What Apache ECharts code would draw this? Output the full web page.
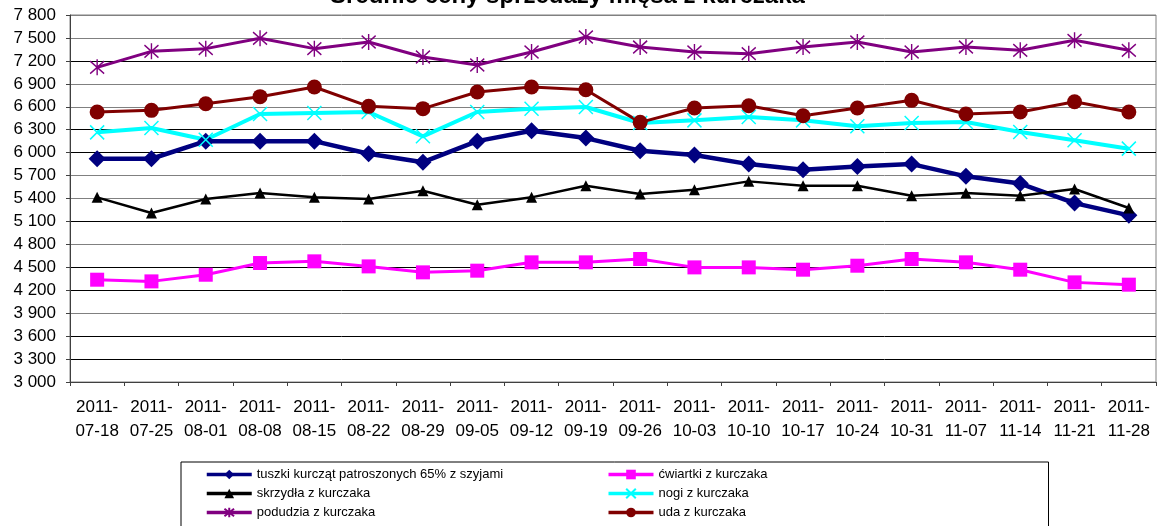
<!DOCTYPE html>
<html>
<head>
<meta charset="utf-8">
<script src="https://cdn.jsdelivr.net/npm/echarts@6/dist/echarts.min.js"></script>
<style>
html,body{margin:0;padding:0;background:#fff;}
#chart{width:1157px;height:526px;}
</style>
</head>
<body>
<div id="chart"></div>
<script>
const categories = ['2011-07-18','2011-07-25','2011-08-01','2011-08-08','2011-08-15','2011-08-22','2011-08-29','2011-09-05','2011-09-12','2011-09-19','2011-09-26','2011-10-03','2011-10-10','2011-10-17','2011-10-24','2011-10-31','2011-11-07','2011-11-14','2011-11-21','2011-11-28'];
const tuszki = [5920,5920,6150,6150,6150,5985,5875,6150,6285,6190,6025,5970,5850,5775,5820,5850,5690,5595,5340,5180];
const cwiartki = [4338,4316,4403,4556,4578,4512,4434,4456,4565,4565,4609,4499,4499,4469,4521,4609,4565,4469,4303,4273];
const skrzydla = [5415,5210,5393,5472,5415,5393,5502,5319,5415,5568,5459,5515,5624,5568,5568,5437,5472,5437,5524,5276];
const nogi = [6265,6322,6169,6505,6518,6531,6213,6531,6575,6597,6388,6422,6466,6422,6344,6388,6401,6270,6161,6052];
const podudzia = [7115,7325,7360,7495,7360,7447,7251,7146,7316,7512,7381,7316,7294,7381,7447,7316,7381,7338,7469,7338];
const uda = [6531,6553,6640,6732,6858,6605,6575,6793,6858,6823,6396,6583,6614,6483,6583,6684,6505,6531,6666,6531];
const seriesNames = ['tuszki kurcząt patroszonych 65% z szyjami','ćwiartki z kurczaka','skrzydła z kurczaka','nogi z kurczaka','podudzia z kurczaka','uda z kurczaka'];
const titleText = 'Średnie ceny sprzedaży mięsa z kurczaka';

const FONT = "'Liberation Sans', Arial, sans-serif";
const G = '#808080', B = '#000000';
const gridColors = [B,B,B,G,B,B,G,B,G,G,B,B,G,G,B,G,G];

const chart = echarts.init(document.getElementById('chart'), null, {renderer:'canvas'});
function mk(name, data, color, symbol, size, width, extra) {
  return Object.assign({
    name: name, type: 'line', data: data, symbol: symbol, symbolSize: size,
    lineStyle: {color: color, width: width},
    itemStyle: {color: color},
    emphasis: {disabled: true},
    animation: false
  }, extra || {});
}
chart.setOption({
  backgroundColor: '#fff',
  animation: false,
  title: {
    text: titleText, left: 325, top: -21,
    textStyle: {fontFamily: FONT, fontSize: 24, fontWeight: 'bold', color: '#000'}
  },
  grid: {left: 70, right: 1, top: 15, bottom: 144, show: true, borderColor: G, borderWidth: 1},
  legend: {
    left: 181, top: 462, width: 830,
    padding: [3, 40, 8, 24],
    borderColor: '#000', borderWidth: 1,
    itemWidth: 45, itemHeight: 12, itemGap: 0,
    lineStyle: {width: 3.5},
    textStyle: {fontFamily: FONT, fontSize: 13, color: '#000', width: 350, lineHeight: 19},
    data: seriesNames
  },
  xAxis: {
    type: 'category', data: categories, boundaryGap: true,
    axisLine: {lineStyle: {color: '#404040', width: 1}},
    axisTick: {show: true, length: 4, lineStyle: {color: '#404040'}},
    axisLabel: {
      interval: 0, margin: 13, fontFamily: FONT, fontSize: 17, color: '#000', lineHeight: 24,
      formatter: v => v.slice(0,5) + '\n' + v.slice(5)
    }
  },
  yAxis: {
    type: 'value', min: 3000, max: 7800, interval: 300,
    axisLine: {show: true, lineStyle: {color: '#404040', width: 1}},
    axisTick: {show: true, length: 4, lineStyle: {color: '#404040'}},
    axisLabel: {
      margin: 14, fontFamily: FONT, fontSize: 17, color: '#000',
      formatter: v => String(v).replace(/\B(?=(\d{3})+(?!\d))/g, ' ')
    },
    splitLine: {show: true, lineStyle: {color: gridColors, width: 1}}
  },
  series: [
    mk(seriesNames[0], tuszki, '#000080', 'diamond', 17, 4.5),
    mk(seriesNames[1], cwiartki, '#FF00FF', 'rect', 14, 3),
    mk(seriesNames[2], skrzydla, '#000000', 'triangle', 11, 2.5),
    mk(seriesNames[3], nogi, '#00FFFF', 'path://M0,0L10,10M0,10L10,0', 14, 4,
       {itemStyle: {color: '#00FFFF', borderColor: '#00FFFF', borderWidth: 1.5}}),
    mk(seriesNames[4], podudzia, '#800080', 'path://M0,1.5L10,12.5M0,12.5L10,1.5M5,0L5,14', [14,16], 3,
       {itemStyle: {color: '#800080', borderColor: '#800080', borderWidth: 1.5}}),
    mk(seriesNames[5], uda, '#800000', 'circle', 15, 3)
  ]
});
</script>
</body>
</html>
